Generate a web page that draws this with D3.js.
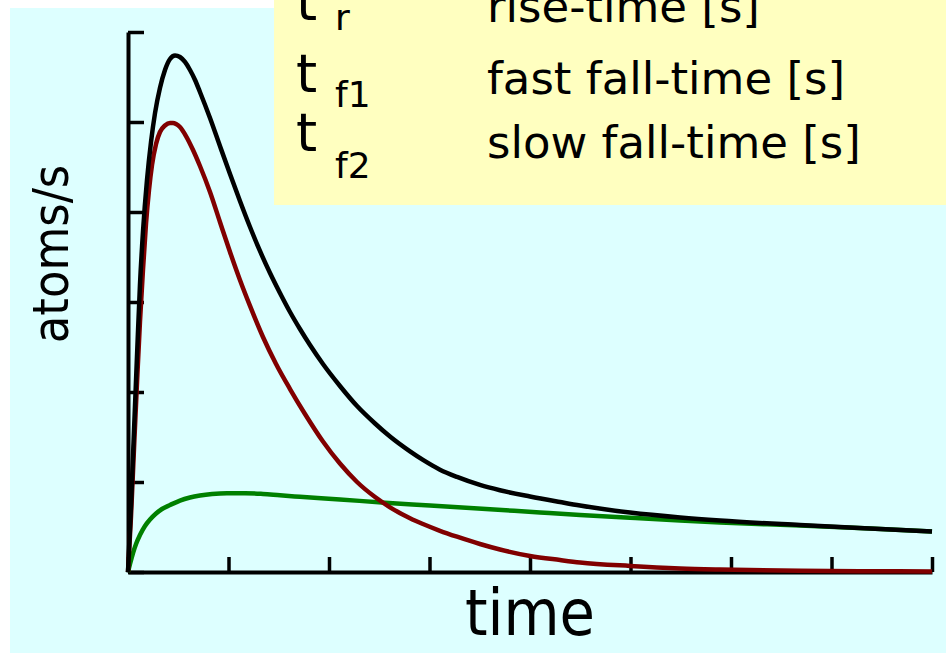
<!DOCTYPE html>
<html>
<head>
<meta charset="utf-8">
<script src="https://cdn.jsdelivr.net/npm/d3@7"></script>
<style>
  body { margin: 0; background: #ffffff; }
  svg { display: block; }
</style>
</head>
<body>
<div id="chart"></div>
<script>
// tick values (axes carry no numbers, only marks)
var timeTicks = [0, 1, 2, 3, 4, 5, 6, 7, 8];
var rateTicks = [0, 1, 2, 3, 4, 5, 6];

// total signal (black)
var totalTime = [0, 0.030, 0.060, 0.090, 0.119, 0.149, 0.189, 0.229, 0.269, 0.318, 0.368, 0.418, 0.468, 0.517, 0.567, 0.617, 0.667, 0.716, 0.816, 0.915, 1.015, 1.114, 1.214, 1.313, 1.413, 1.512, 1.612, 1.711, 1.811, 1.940, 2.109, 2.279, 2.458, 2.607, 2.806, 2.935, 3.104, 3.274, 3.502, 3.701, 4.000, 4.299, 4.498, 4.995, 5.493, 5.891, 6.687, 7.383, 8.0];
var totalRate = [0, 0.744, 1.578, 2.411, 3.189, 3.778, 4.356, 4.778, 5.100, 5.378, 5.578, 5.700, 5.739, 5.722, 5.667, 5.578, 5.467, 5.333, 5.044, 4.733, 4.422, 4.122, 3.833, 3.567, 3.322, 3.100, 2.889, 2.700, 2.522, 2.311, 2.067, 1.844, 1.650, 1.505, 1.340, 1.245, 1.137, 1.056, 0.967, 0.908, 0.839, 0.778, 0.739, 0.661, 0.606, 0.572, 0.522, 0.483, 0.450];

// fast component (dark red)
var fastTime = [0, 0.030, 0.060, 0.090, 0.119, 0.149, 0.179, 0.209, 0.239, 0.279, 0.318, 0.368, 0.418, 0.448, 0.478, 0.517, 0.577, 0.647, 0.716, 0.816, 0.915, 1.015, 1.114, 1.214, 1.343, 1.473, 1.612, 1.761, 1.940, 2.109, 2.279, 2.458, 2.607, 2.806, 2.935, 3.104, 3.274, 3.502, 3.701, 4.000, 4.299, 4.498, 4.995, 5.493, 5.891, 6.687, 7.383, 8.0];
var fastRate = [0, 0.622, 1.378, 2.111, 2.778, 3.356, 3.867, 4.244, 4.522, 4.756, 4.889, 4.961, 4.989, 4.989, 4.978, 4.944, 4.844, 4.689, 4.511, 4.222, 3.889, 3.556, 3.244, 2.956, 2.611, 2.311, 2.033, 1.756, 1.450, 1.205, 1.000, 0.833, 0.719, 0.597, 0.533, 0.458, 0.392, 0.311, 0.250, 0.178, 0.133, 0.106, 0.067, 0.039, 0.027, 0.014, 0.009, 0.006];

// slow component (green)
var slowTime = [0, 0.020, 0.050, 0.080, 0.119, 0.169, 0.219, 0.279, 0.338, 0.418, 0.517, 0.617, 0.716, 0.836, 0.985, 1.164, 1.343, 1.512, 1.711, 2.109, 2.557, 3.005, 3.602, 4.100, 4.498, 4.995, 5.493, 5.891, 6.687, 7.383, 8.0];
var slowRate = [0, 0.089, 0.211, 0.311, 0.411, 0.511, 0.583, 0.650, 0.700, 0.744, 0.794, 0.828, 0.850, 0.867, 0.876, 0.876, 0.867, 0.852, 0.836, 0.806, 0.770, 0.739, 0.697, 0.661, 0.633, 0.602, 0.572, 0.550, 0.516, 0.483, 0.450];

// legend rows
var legendSymbols = ["r", "f1", "f2"];
var legendTexts = ["rise-time [s]", "fast fall-time [s]", "slow fall-time [s]"];

var svgWidth = 946;
var svgHeight = 653;

var svg = d3.select("#chart")
    .append("svg")
    .attr("width", svgWidth)
    .attr("height", svgHeight);

var condensed = "'DejaVu Sans Condensed', 'DejaVu Sans', sans-serif";
var wide = "'DejaVu Sans', sans-serif";

// panel background
svg.append("rect")
    .attr("x", 10)
    .attr("y", 8)
    .attr("width", svgWidth - 10)
    .attr("height", svgHeight - 8)
    .attr("fill", "#ddffff");

var x = d3.scaleLinear().domain([0, 8]).range([128, 932]);
var y = d3.scaleLinear().domain([0, 6]).range([572, 32]);

// y axis, ticks pointing inward
svg.append("g")
    .attr("transform", "translate(128,0)")
    .call(d3.axisLeft(y).tickValues(rateTicks).tickSizeInner(-16).tickSizeOuter(0).tickFormat(""));

// x axis, ticks pointing up
svg.append("g")
    .attr("transform", "translate(0,572)")
    .call(d3.axisBottom(x).tickValues(timeTicks).tickSizeInner(-15).tickSizeOuter(0).tickFormat(""));

svg.selectAll(".domain").attr("stroke", "#000").attr("stroke-width", 4);
svg.selectAll(".tick line").attr("stroke", "#000").attr("stroke-width", 3.5);

var line = d3.line()
    .x(d => x(d[0]))
    .y(d => y(d[1]))
    .curve(d3.curveMonotoneX);

var series = [
    { t: slowTime, v: slowRate, color: "#008000" },
    { t: fastTime, v: fastRate, color: "#800000" },
    { t: totalTime, v: totalRate, color: "#000000" }
];

series.forEach(function(s) {
    svg.append("path")
        .datum(d3.zip(s.t, s.v))
        .attr("d", line)
        .attr("fill", "none")
        .attr("stroke", s.color)
        .attr("stroke-width", 4.5);
});

// axis titles
svg.append("text")
    .attr("transform", "translate(68,254) rotate(-90)")
    .attr("text-anchor", "middle")
    .attr("font-family", condensed)
    .attr("font-size", 50)
    .attr("fill", "#000")
    .text("atoms/s");

svg.append("text")
    .attr("x", 530)
    .attr("y", 635)
    .attr("text-anchor", "middle")
    .attr("font-family", condensed)
    .attr("font-size", 64)
    .attr("fill", "#000")
    .text("time");

// legend box (cut off at top)
svg.append("rect")
    .attr("x", 274)
    .attr("y", 0)
    .attr("width", svgWidth - 274)
    .attr("height", 205)
    .attr("fill", "#ffffc0");

var tBase = [20, 92, 151];
var subBase = [30, 107, 178];
var textBase = [22, 94, 158];

legendSymbols.forEach(function(sym, i) {
    svg.append("text")
        .attr("x", 296)
        .attr("y", tBase[i])
        .attr("font-family", wide)
        .attr("font-size", 54)
        .attr("fill", "#000")
        .text("t");
    svg.append("text")
        .attr("x", 335)
        .attr("y", subBase[i])
        .attr("font-family", wide)
        .attr("font-size", 36)
        .attr("fill", "#000")
        .text(sym);
    svg.append("text")
        .attr("x", 487)
        .attr("y", textBase[i])
        .attr("font-family", wide)
        .attr("font-size", 45)
        .attr("fill", "#000")
        .text(legendTexts[i]);
});
</script>
</body>
</html>
